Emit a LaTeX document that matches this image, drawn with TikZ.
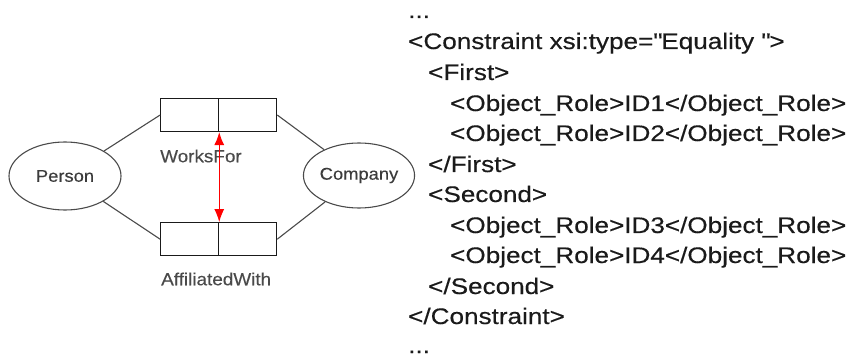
\documentclass[tikz,border=0pt]{standalone}
\usepackage{fontspec}
\setmainfont{Liberation Sans}[FakeStretch=1.16,FakeBold=0.35]
\newfontfamily\labelfont{Liberation Sans}[FakeStretch=1.08,FakeBold=0.25]
\usetikzlibrary{shapes.geometric,arrows.meta}
\definecolor{ink}{HTML}{1A1A1A}
\definecolor{edge}{HTML}{4A4A4A}
\tikzset{
  entity/.style={ellipse,draw=edge,line width=1.1pt,inner sep=0pt,font=\labelfont\fontsize{17}{19}\selectfont,text=ink!85},
  rolecell/.style={rectangle,draw=ink,line width=1.1pt,inner sep=0pt,minimum width=58pt,minimum height=33pt},
  roleline/.style={draw=edge,line width=1.1pt},
  factname/.style={anchor=west,inner sep=0pt,font=\labelfont\fontsize{17.5}{19}\selectfont,text=edge},
  xmlline/.style={anchor=base west,inner sep=0pt,font=\fontsize{22.5}{26}\selectfont,text=ink},
  eqarrow/.style={red,line width=1.3pt,{Latex[length=13pt,width=10pt]}-{Latex[length=13pt,width=10pt]}}
}
\begin{document}
\begin{tikzpicture}[x=1pt,y=-1pt]
\useasboundingbox[fill=white] (0,0) rectangle (846,358);

% object types
\node[entity,minimum width=112pt,minimum height=68pt] (person) at (65,176) {Person};
\node[entity,minimum width=106pt,minimum height=65pt] (company) at (359,175.5) {Company};

% fact types with two roles each
\node[rolecell] (wf1) at (189.7,115) {};
\node[rolecell] (wf2) at (247.7,115) {};
\node[rolecell] (af1) at (189.7,239.2) {};
\node[rolecell] (af2) at (247.7,239.2) {};

\node[factname] (wflabel) at (160,156) {WorksFor};
\node[factname] (aflabel) at (161,279) {AffiliatedWith};

% role connectors
\draw[roleline] (person) -- (wf1.west);
\draw[roleline] (wf2.east) -- (company);
\draw[roleline] (person) -- (af1.west);
\draw[roleline] (af2.east) -- (company);

% equality constraint between the role pairs
\draw[eqarrow] (wf1.south east) -- (af1.north east);

% XML serialisation
\node[xmlline] (x0)  at (408,18)  {...};
\node[xmlline] (x1)  at (408,49)  {<Constraint xsi:type=\textquotedbl Equality \textquotedbl>};
\node[xmlline] (x2)  at (428,80)  {<First>};
\node[xmlline] (x3)  at (450,111) {<Object\_Role>ID1</Object\_Role>};
\node[xmlline] (x4)  at (450,141) {<Object\_Role>ID2</Object\_Role>};
\node[xmlline] (x5)  at (428,172) {</First>};
\node[xmlline] (x6)  at (428,202) {<Second>};
\node[xmlline] (x7)  at (450,233) {<Object\_Role>ID3</Object\_Role>};
\node[xmlline] (x8)  at (450,263) {<Object\_Role>ID4</Object\_Role>};
\node[xmlline] (x9)  at (428,294) {</Second>};
\node[xmlline] (x10) at (408,324) {</Constraint>};
\node[xmlline] (x11) at (408,353) {...};
\end{tikzpicture}
\end{document}
